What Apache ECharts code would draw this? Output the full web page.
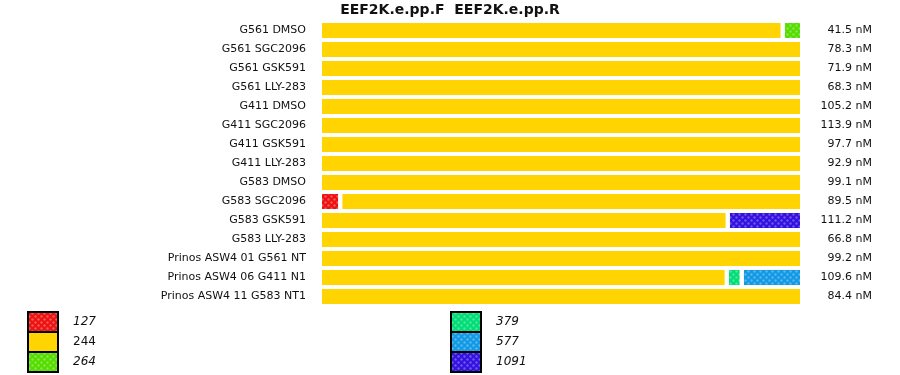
<!DOCTYPE html>
<html><head><meta charset="utf-8">
<script src="https://cdn.jsdelivr.net/npm/echarts@6/dist/echarts.min.js"></script>
<style>html,body{margin:0;padding:0;background:#fff}#c{width:900px;height:375px}</style>
</head><body><div id="c"></div>
<script>
const samples = ['G561 DMSO','G561 SGC2096','G561 GSK591','G561 LLY-283','G411 DMSO','G411 SGC2096','G411 GSK591','G411 LLY-283','G583 DMSO','G583 SGC2096','G583 GSK591','G583 LLY-283','Prinos ASW4 01 G561 NT','Prinos ASW4 06 G411 N1','Prinos ASW4 11 G583 NT1'];
const concLabels = ['41.5 nM','78.3 nM','71.9 nM','68.3 nM','105.2 nM','113.9 nM','97.7 nM','92.9 nM','99.1 nM','89.5 nM','111.2 nM','66.8 nM','99.2 nM','109.6 nM','84.4 nM'];
const sizeNames = ['127','244','264','379','577','1091'];
const v127  = [0,0,0,0,0,0,0,0,0,4.2,0,0,0,0,0];
const v244  = [96,100,100,100,100,100,100,100,100,95.8,84.6,100,100,84.4,100];
const v264  = [4,0,0,0,0,0,0,0,0,0,0,0,0,0,0];
const v379  = [0,0,0,0,0,0,0,0,0,0,0,0,0,3.1,0];
const v577  = [0,0,0,0,0,0,0,0,0,0,0,0,0,12.5,0];
const v1091 = [0,0,0,0,0,0,0,0,0,0,15.4,0,0,0,0];
const colors = ['#ee1111','#ffd400','#55dd00','#00dd77','#1199e6','#3311e0'];
const patterned = [true,false,true,true,true,true];
const values = [v127,v244,v264,v379,v577,v1091];

const FONT = 'DejaVu Sans';
const series = sizeNames.map((n,i)=>({
  name:n, type:'bar', stack:'all', barWidth:19,
  data: values[i].map(v=> v===0 ? '-' : v),
  itemStyle:{
    color:colors[i], borderColor:'#fff', borderWidth:2,
    decal: patterned[i] ? {symbol:'circle', symbolSize:0.8, color:'rgba(255,255,255,0.3)', dashArrayX:[[3,3],[0,3,3,0]], dashArrayY:[3,0]} : {symbol:'none'}
  },
  emphasis:{disabled:true}
}));

const legendItem = (n)=>({name:n, textStyle:{fontStyle: n==='244' ? 'normal' : 'italic'}});
const legendBase = {
  orient:'vertical', top:311, height:100, padding:0, itemWidth:30, itemHeight:20, itemGap:-2,
  icon:'rect',
  itemStyle:{borderColor:'#000', borderWidth:2},
  textStyle:{fontFamily:FONT, fontSize:12, lineHeight:20, height:20, color:'#111', padding:[0,0,0,10]},
  selectedMode:false
};

const chart = echarts.init(document.getElementById('c'));
chart.setOption({
  animation:false,
  title:{text:'EEF2K.e.pp.F  EEF2K.e.pp.R', left:'center', top:-2, textStyle:{fontFamily:FONT, fontSize:14, fontWeight:'bold', color:'#111'}},
  grid:{left:320, top:21, width:482, height:285},
  xAxis:{type:'value', min:0, max:100, show:false},
  yAxis:[
    {type:'category', data:samples, inverse:true, axisLine:{show:false}, axisTick:{show:false},
     axisLabel:{fontFamily:FONT, fontSize:11, color:'#111', margin:14}},
    {type:'category', data:concLabels, inverse:true, position:'right', axisLine:{show:false}, axisTick:{show:false},
     axisLabel:{fontFamily:FONT, fontSize:11, color:'#111', margin:70, align:'right'}}
  ],
  legend:[
    Object.assign({}, legendBase, {left:27, data:sizeNames.slice(0,3).map(legendItem)}),
    Object.assign({}, legendBase, {left:450, data:sizeNames.slice(3).map(legendItem)})
  ],
  series: series.concat([{type:'bar', yAxisIndex:1, data:[], silent:true}])
});
</script></body></html>
